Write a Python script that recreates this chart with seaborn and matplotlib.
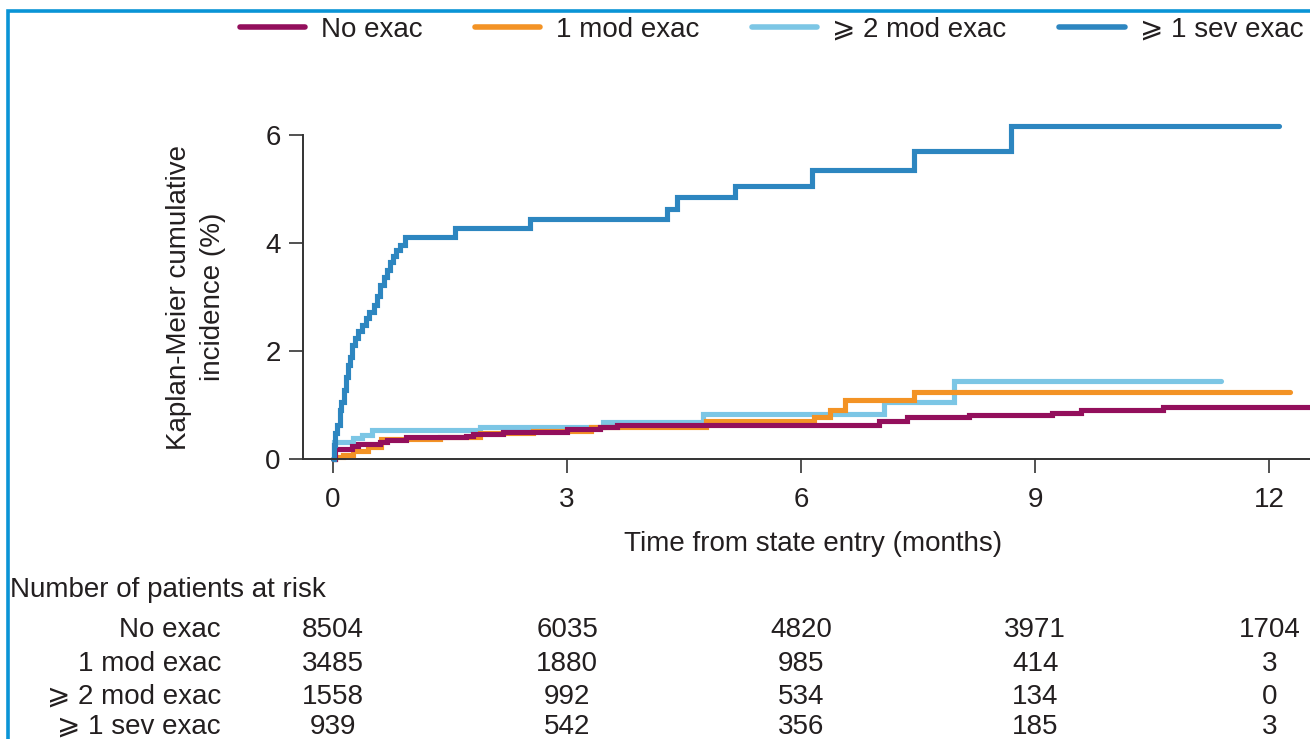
import numpy as np
import pandas as pd
import matplotlib
matplotlib.use("Agg")
import matplotlib.pyplot as plt
import matplotlib.transforms as mtransforms
from matplotlib.lines import Line2D
from matplotlib.patches import Rectangle
import seaborn as sns

# ---- data -------------------------------------------------------------
groups = ["No exac", "1 mod exac", "⩾ 2 mod exac", "⩾ 1 sev exac"]
colors = ["#930f5c", "#f39325", "#7cc6e5", "#2d86c0"]

# Kaplan-Meier step times (months) and cumulative incidence (%) after each step
no_exac_t = [0, 0.02, 0.24, 0.32, 0.60, 0.69, 0.94, 1.71, 1.80, 2.18, 3.00, 3.42,
             3.64, 7.00, 7.35, 8.15, 9.22, 9.59, 10.64, 12.65]
no_exac_y = [0, 0.19, 0.24, 0.28, 0.32, 0.35, 0.41, 0.43, 0.46, 0.50, 0.55, 0.60,
             0.63, 0.71, 0.78, 0.81, 0.86, 0.91, 0.96, 0.96]

mod1_t = [0, 0.03, 0.13, 0.26, 0.45, 0.62, 1.37, 1.88, 2.56, 3.30, 4.78, 6.17,
          6.37, 6.56, 7.45, 12.27]
mod1_y = [0, 0.04, 0.08, 0.15, 0.22, 0.37, 0.41, 0.48, 0.52, 0.59, 0.71, 0.77,
          0.91, 1.09, 1.24, 1.24]

mod2_t = [0, 0.01, 0.26, 0.37, 0.50, 1.88, 3.46, 4.74, 7.06, 7.96, 11.38]
mod2_y = [0, 0.32, 0.39, 0.44, 0.54, 0.59, 0.69, 0.84, 1.06, 1.44, 1.44]

sev1_t = [0, 0.013, 0.026, 0.05, 0.09, 0.10, 0.14, 0.17, 0.19, 0.22, 0.24, 0.28,
          0.32, 0.37, 0.42, 0.46, 0.53, 0.56, 0.60, 0.65, 0.69, 0.73, 0.77, 0.81,
          0.86, 0.92, 1.56, 2.53, 4.28, 4.41, 5.15, 6.14, 7.44, 8.69, 12.12]
sev1_y = [0, 0.26, 0.48, 0.63, 0.91, 1.05, 1.28, 1.52, 1.74, 1.89, 2.11, 2.24,
          2.37, 2.48, 2.61, 2.72, 2.85, 3.02, 3.22, 3.37, 3.50, 3.65, 3.76, 3.87,
          3.96, 4.11, 4.28, 4.44, 4.63, 4.85, 5.06, 5.35, 5.70, 6.17, 6.17]

risk_times = [0, 3, 6, 9, 12]
risk_no_exac = [8504, 6035, 4820, 3971, 1704]
risk_mod1 = [3485, 1880, 985, 414, 3]
risk_mod2 = [1558, 992, 534, 134, 0]
risk_sev1 = [939, 542, 356, 185, 3]

x_ticks = [0, 3, 6, 9, 12]
y_ticks = [0, 2, 4, 6]

# ---- frame ------------------------------------------------------------
W, H = 1310, 739
sns.set_style("ticks")
plt.rcParams["font.family"] = ["Liberation Sans", "DejaVu Sans"]
plt.rcParams["text.color"] = "#231f20"
FS = 20
INK = "#231f20"

curves = pd.concat([
    pd.DataFrame({"group": groups[0], "months": no_exac_t, "incidence": no_exac_y}),
    pd.DataFrame({"group": groups[1], "months": mod1_t, "incidence": mod1_y}),
    pd.DataFrame({"group": groups[2], "months": mod2_t, "incidence": mod2_y}),
    pd.DataFrame({"group": groups[3], "months": sev1_t, "incidence": sev1_y}),
])
palette = dict(zip(groups, colors))

fig = plt.figure(figsize=(W / 100, H / 100), dpi=100)
ax_left, ax_right = 303, 1324
ax_bottom, ax_top = 459, 118.8
ax = fig.add_axes([ax_left / W, 1 - ax_bottom / H,
                   (ax_right - ax_left) / W, (ax_bottom - ax_top) / H])

# draw order: light blue, orange, purple, then the severe group on top
for g in [groups[2], groups[1], groups[0], groups[3]]:
    sns.lineplot(data=curves[curves["group"] == g], x="months", y="incidence",
                 color=palette[g], lw=3.7, drawstyle="steps-post",
                 estimator=None, ax=ax, legend=False)
for ln in ax.get_lines():
    ln.set_clip_on(False)
    ln.set_solid_joinstyle("miter")

ax.set_xlim(-0.385, 12.7)
ax.set_ylim(0, 6.3)
ax.set_xticks(x_ticks)
ax.set_yticks(y_ticks)
sns.despine(ax=ax)
ax.spines["left"].set_bounds(0, 6)
for s in ("left", "bottom"):
    ax.spines[s].set_linewidth(1.4)
    ax.spines[s].set_color("#333333")
ax.tick_params(axis="both", direction="out", length=10, width=1.2,
               color="#333333", labelsize=FS, labelcolor=INK)
ax.tick_params(axis="x", pad=10)
ax.tick_params(axis="y", pad=6)

ax.set_xlabel("Time from state entry (months)", fontsize=FS, color=INK)
ax.xaxis.set_label_coords(0.5, -0.212)
ax.set_ylabel("Kaplan-Meier cumulative\nincidence (%)", fontsize=FS, color=INK,
              linespacing=1.4)
ax.yaxis.set_label_coords(-0.075, 0.476)

# legend across the top
handles = [Line2D([], [], color=c, lw=4) for c in colors]
fig.legend(handles, groups, loc="upper left", bbox_to_anchor=(240 / W, 1 - 17 / H),
           ncol=4, frameon=False, fontsize=FS, handlelength=2.35,
           handletextpad=0.55, columnspacing=1.9, borderpad=0, borderaxespad=0)

# number-at-risk table
fig.text(10 / W, 1 - 590 / H, "Number of patients at risk", fontsize=FS,
         ha="left", va="center", color=INK)
row_y = [630, 664, 697, 727]
risk_rows = [risk_no_exac, risk_mod1, risk_mod2, risk_sev1]
blend = mtransforms.blended_transform_factory(ax.transData, fig.transFigure)
for label, counts, ypx in zip(groups, risk_rows, row_y):
    fig.text(221 / W, 1 - ypx / H, label, fontsize=FS, ha="right", va="center",
             color=INK)
    for t, n in zip(risk_times, counts):
        ax.text(t, 1 - ypx / H, f"{n}", transform=blend, fontsize=FS,
                ha="center", va="center", color=INK, clip_on=False)

# blue panel border
fig.patches.append(Rectangle((7.5 / W, -1), 2, 2 - 10.5 / H,
                             transform=fig.transFigure, fill=False,
                             ec="#0a94d6", lw=2.6))

fig.savefig("out.png", dpi=100)
